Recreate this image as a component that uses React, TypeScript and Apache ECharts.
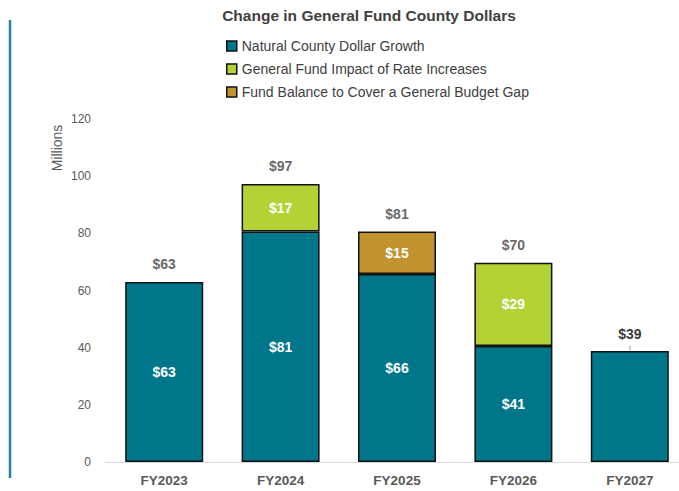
import React, { useEffect, useRef } from "react";
import * as echarts from "echarts";

const categories = ["FY2023", "FY2024", "FY2025", "FY2026", "FY2027"];
const naturalGrowth = [63, 80.6, 65.8, 40.6, 38.8];
const rateIncreases = [0, 16.7, 0, 29.1, 0];
const fundBalance = [0, 0, 14.8, 0, 0];
const showInnerNatural = [true, true, true, true, false];
const seriesNames = [
  "Natural County Dollar Growth",
  "General Fund Impact of Rate Increases",
  "Fund Balance to Cover a General Budget Gap",
];
const yTicks = [0, 20, 40, 60, 80, 100, 120];

const FONT = "'Liberation Sans', Arial, sans-serif";

export default function App() {
  const ref = useRef<HTMLDivElement>(null);
  useEffect(() => {
    document.body.style.margin = "0";
    if (!ref.current) return;
    const chart = echarts.init(ref.current, undefined, { renderer: "svg" });
    const totals = categories.map((_, i) => naturalGrowth[i] + rateIncreases[i] + fundBalance[i]);
    const last = categories.length - 1;
    const innerLabel = {
      show: true,
      position: "inside",
      color: "#ffffff",
      fontWeight: "bold",
      fontSize: 14,
      fontFamily: FONT,
      formatter: (p: any) => (p.value > 0 ? "$" + Math.round(p.value) : ""),
    };
    const barStyle = (color: string) => ({
      color,
      borderColor: "#111111",
      borderWidth: 1.5,
    });
    chart.setOption({
      animation: false,
      textStyle: { fontFamily: FONT },
      title: {
        text: "Change in General Fund County Dollars",
        left: 364,
        textAlign: "center",
        top: 2,
        textStyle: { fontSize: 15.5, fontWeight: "bold", color: "#404040", fontFamily: FONT },
      },
      legend: {
        data: seriesNames,
        orient: "vertical",
        left: 221,
        top: 34,
        itemWidth: 10,
        itemHeight: 10,
        itemGap: 9,
        icon: "rect",
        itemStyle: { borderColor: "#111111", borderWidth: 1.5 },
        textStyle: { fontSize: 14, color: "#404040", fontFamily: FONT },
        selectedMode: false,
      },
      grid: { left: 106, top: 119, width: 582, bottom: 29, containLabel: false },
      xAxis: {
        type: "category",
        data: categories,
        axisLine: { lineStyle: { color: "#d9d9d9", width: 1 } },
        axisTick: { show: false },
        axisLabel: {
          color: "#595959",
          fontWeight: "bold",
          fontSize: 13.5,
          margin: 11,
          fontFamily: FONT,
        },
      },
      yAxis: {
        type: "value",
        min: yTicks[0],
        max: yTicks[yTicks.length - 1],
        interval: 20,
        splitLine: { show: false },
        axisLine: { show: false },
        axisTick: { show: false },
        axisLabel: { color: "#595959", fontSize: 12, margin: 15, fontFamily: FONT },
      },
      graphic: [
        {
          type: "line",
          shape: { x1: 10, y1: 20, x2: 10, y2: 478 },
          style: { stroke: "#1f8796", lineWidth: 2.5 },
        },
        {
          type: "text",
          x: 57,
          y: 148,
          rotation: Math.PI / 2,
          style: {
            text: "Millions",
            fontSize: 14,
            fill: "#595959",
            fontFamily: FONT,
            align: "center",
            verticalAlign: "middle",
          },
        },
      ],
      series: [
        {
          name: seriesNames[0],
          type: "bar",
          stack: "total",
          barWidth: 78,
          data: naturalGrowth.map((v, i) => ({
            value: v,
            label: showInnerNatural[i] ? undefined : { show: false },
          })),
          itemStyle: barStyle("#00768a"),
          label: innerLabel,
        },
        {
          name: seriesNames[1],
          type: "bar",
          stack: "total",
          barWidth: 78,
          data: rateIncreases.map((v) => (v > 0 ? v : "-")),
          itemStyle: barStyle("#b2d235"),
          label: innerLabel,
        },
        {
          name: seriesNames[2],
          type: "bar",
          stack: "total",
          barWidth: 78,
          data: fundBalance.map((v) => (v > 0 ? v : "-")),
          itemStyle: barStyle("#c0932f"),
          label: innerLabel,
        },
        {
          name: "Total",
          type: "scatter",
          symbolSize: 1,
          itemStyle: { color: "rgba(0,0,0,0)" },
          data: totals.map((t, i) => ({
            value: t,
            label: i === last ? { color: "#000000" } : undefined,
          })),
          label: {
            show: true,
            position: "top",
            distance: 10,
            color: "#404040",
            fontWeight: "bold",
            fontSize: 14,
            fontFamily: FONT,
            formatter: (p: any) => "$" + Math.round(p.value),
          },
          markLine: {
            symbol: "none",
            silent: true,
            animation: false,
            label: { show: false },
            lineStyle: { color: "#bfbfbf", type: "solid", width: 1.5 },
            data: [
              [
                { coord: [last, totals[last] + 0.2] },
                { coord: [last, totals[last] + 2] },
              ],
            ],
          },
          z: 5,
        },
      ],
    });
    return () => chart.dispose();
  }, []);
  return (
    <div style={{ width: 679, height: 491, overflow: "hidden", position: "relative" }}>
      <div ref={ref} style={{ width: 700, height: 491 }} />
    </div>
  );
}
